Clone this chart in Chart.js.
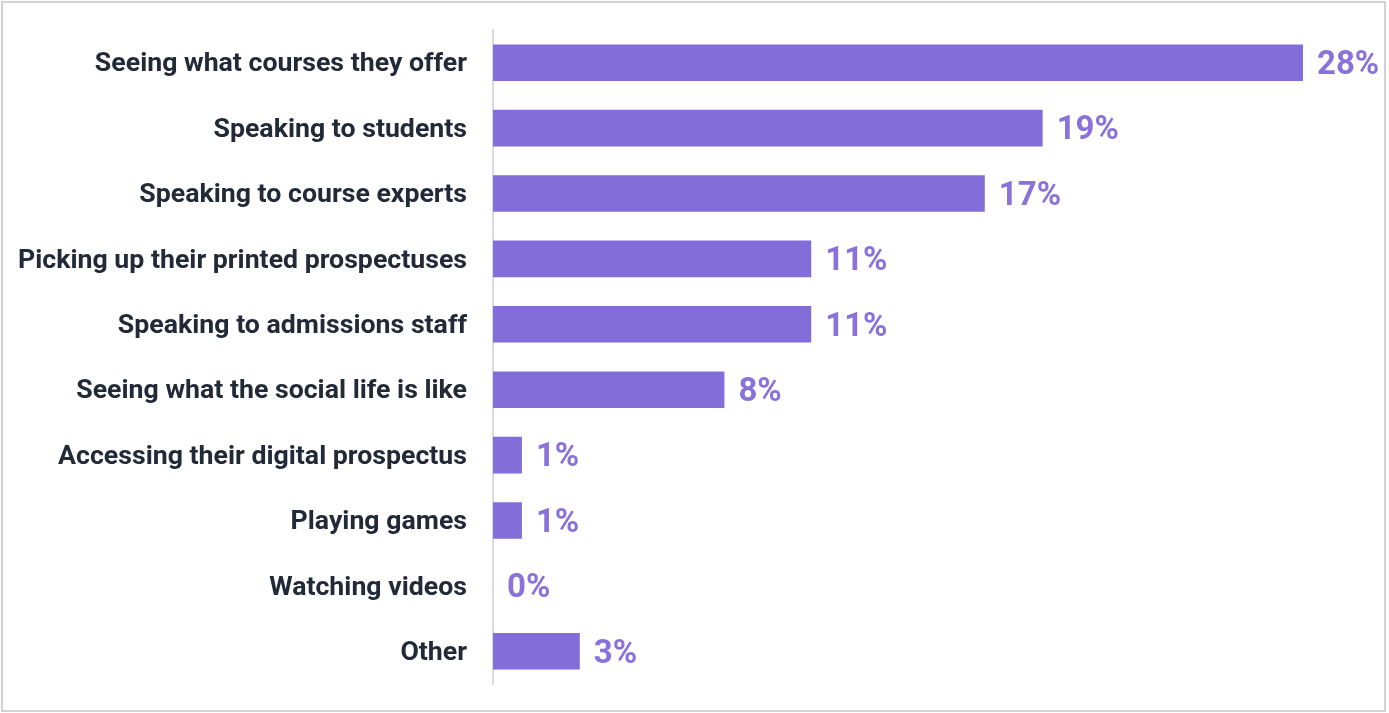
<!DOCTYPE html>
<html>
<head>
<meta charset="utf-8">
<script src="https://cdn.jsdelivr.net/npm/chart.js@4"></script>
<style>
  html, body { margin: 0; padding: 0; background: #fff; }
  .wrap { position: relative; width: 1389px; height: 713px; }
  .frame {
    position: absolute; left: 1px; top: 1px; width: 1381px; height: 707px;
    border: 2px solid #d2d2d2; pointer-events: none;
  }
</style>
</head>
<body>
<div class="wrap">
  <canvas id="activitiesChart" width="1389" height="713"></canvas>
  <div class="frame"></div>
</div>
<script>
const categories = [
  'Seeing what courses they offer',
  'Speaking to students',
  'Speaking to course experts',
  'Picking up their printed prospectuses',
  'Speaking to admissions staff',
  'Seeing what the social life is like',
  'Accessing their digital prospectus',
  'Playing games',
  'Watching videos',
  'Other'
];
const percentages = [28, 19, 17, 11, 11, 8, 1, 1, 0, 3];

const barColor = '#836dd8';
const labelColor = '#222a38';

// Draws the "NN%" text just past the end of each bar
const valueLabels = {
    id: 'valueLabels',
    afterDatasetsDraw(chart) {
        const ctx = chart.ctx;
        const meta = chart.getDatasetMeta(0);
        ctx.save();
        ctx.font = 'bold 33px Roboto';
        ctx.fillStyle = '#8a72da';
        ctx.textAlign = 'left';
        ctx.textBaseline = 'middle';
        meta.data.forEach((bar, i) => {
            ctx.fillText(percentages[i] + '%', bar.x + 14, bar.y + 3);
        });
        ctx.restore();
    }
};

document.addEventListener('DOMContentLoaded', function () {
    const ctx = document.getElementById('activitiesChart');
    new Chart(ctx, {
        type: 'bar',
        data: {
            labels: categories,
            datasets: [{
                data: percentages,
                backgroundColor: barColor,
                borderWidth: 0,
                categoryPercentage: 1,
                barPercentage: 0.56
            }]
        },
        options: {
            indexAxis: 'y',
            responsive: false,
            animation: false,
            layout: { padding: { top: 30, bottom: 29, right: 86, left: 0 } },
            plugins: {
                legend: { display: false },
                tooltip: { enabled: false }
            },
            scales: {
                x: { display: false, min: 0, max: 28 },
                y: {
                    afterFit(scale) {
                        // fixed label column, no extra room for half-labels
                        scale.width = 493;
                        scale.paddingTop = 0;
                        scale.paddingBottom = 0;
                    },
                    grid: { display: false, drawTicks: false },
                    border: { display: true, color: '#d6dbe4', width: 2 },
                    ticks: {
                        padding: 26,
                        labelOffset: 2,
                        color: labelColor,
                        font: { family: 'Roboto', weight: 'bold', size: 26.7 }
                    }
                }
            }
        },
        plugins: [valueLabels]
    });
});
</script>
</body>
</html>
